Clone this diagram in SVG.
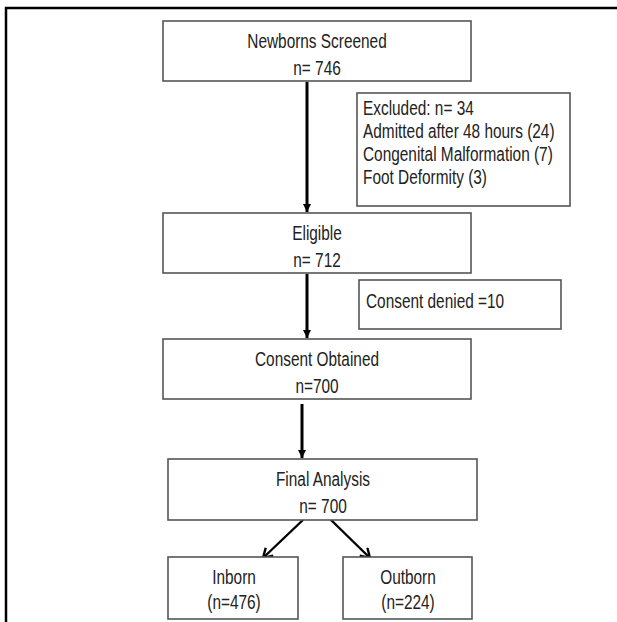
<svg xmlns="http://www.w3.org/2000/svg" width="617" height="622" viewBox="0 0 617 622">
  <style>
    .box { fill: #ffffff; stroke: #555555; stroke-width: 1.6; }
    .t { font-family: "Liberation Sans", Arial, sans-serif; font-size: 20px; fill: #222222; }
    .c { text-anchor: middle; }
    .conn { stroke: #000000; stroke-width: 3; fill: none; }
    .diag { stroke: #000000; stroke-width: 2.4; fill: none; }
  </style>
  <defs>
    <marker id="ah" markerUnits="userSpaceOnUse" markerWidth="10" markerHeight="10" refX="8" refY="4" orient="auto">
      <path d="M0,0 L8,4 L0,8 Z" fill="#000000"/>
    </marker>
    <marker id="av" markerUnits="userSpaceOnUse" markerWidth="14" markerHeight="14" refX="10" refY="6" orient="auto">
      <path d="M1,0.5 L10,6 L1,11.5" fill="none" stroke="#000000" stroke-width="2.4"/>
    </marker>
  </defs>
  <rect width="617" height="622" fill="#ffffff"/>
  <path d="M6,622 V8 H617" fill="none" stroke="#000000" stroke-width="2.5"/>

  <g id="connectors">
    <line class="conn" x1="307" y1="82" x2="307" y2="212" marker-end="url(#ah)"/>
    <line class="conn" x1="307" y1="274" x2="307" y2="338" marker-end="url(#ah)"/>
    <line class="conn" x1="302" y1="404" x2="302" y2="458" marker-end="url(#ah)"/>
    <line class="diag" x1="305" y1="518" x2="263" y2="558" marker-end="url(#av)"/>
    <line class="diag" x1="329" y1="518" x2="370" y2="558" marker-end="url(#av)"/>
  </g>

  <g id="screened">
    <rect class="box" x="163" y="21" width="308" height="60"/>
    <text class="t c" transform="translate(317,48) scale(0.77,1)">Newborns Screened</text>
    <text class="t c" transform="translate(317,75) scale(0.77,1)">n= 746</text>
  </g>

  <g id="excluded">
    <rect class="box" x="357" y="93" width="213" height="113"/>
    <text class="t" transform="translate(363,115) scale(0.77,1)">Excluded: n= 34</text>
    <text class="t" transform="translate(363,138) scale(0.77,1)">Admitted after 48 hours (24)</text>
    <text class="t" transform="translate(363,161) scale(0.77,1)">Congenital Malformation (7)</text>
    <text class="t" transform="translate(363,184) scale(0.77,1)">Foot Deformity (3)</text>
  </g>

  <g id="eligible">
    <rect class="box" x="163" y="213" width="308" height="60"/>
    <text class="t c" transform="translate(317,240) scale(0.77,1)">Eligible</text>
    <text class="t c" transform="translate(317,267) scale(0.77,1)">n= 712</text>
  </g>

  <g id="denied">
    <rect class="box" x="359" y="280" width="202" height="49"/>
    <text class="t" transform="translate(366,308) scale(0.77,1)">Consent denied =10</text>
  </g>

  <g id="obtained">
    <rect class="box" x="163" y="339" width="308" height="60"/>
    <text class="t c" transform="translate(317,366) scale(0.77,1)">Consent Obtained</text>
    <text class="t c" transform="translate(317,393) scale(0.77,1)">n=700</text>
  </g>

  <g id="final">
    <rect class="box" x="168" y="459" width="309" height="61"/>
    <text class="t c" transform="translate(323,486) scale(0.77,1)">Final Analysis</text>
    <text class="t c" transform="translate(323,513) scale(0.77,1)">n= 700</text>
  </g>

  <g id="inborn">
    <rect class="box" x="168" y="557" width="130" height="62"/>
    <text class="t c" transform="translate(234,584) scale(0.77,1)">Inborn</text>
    <text class="t c" transform="translate(234,609) scale(0.77,1)">(n=476)</text>
  </g>

  <g id="outborn">
    <rect class="box" x="343" y="557" width="129" height="62"/>
    <text class="t c" transform="translate(408,584) scale(0.77,1)">Outborn</text>
    <text class="t c" transform="translate(408,609) scale(0.77,1)">(n=224)</text>
  </g>
</svg>
